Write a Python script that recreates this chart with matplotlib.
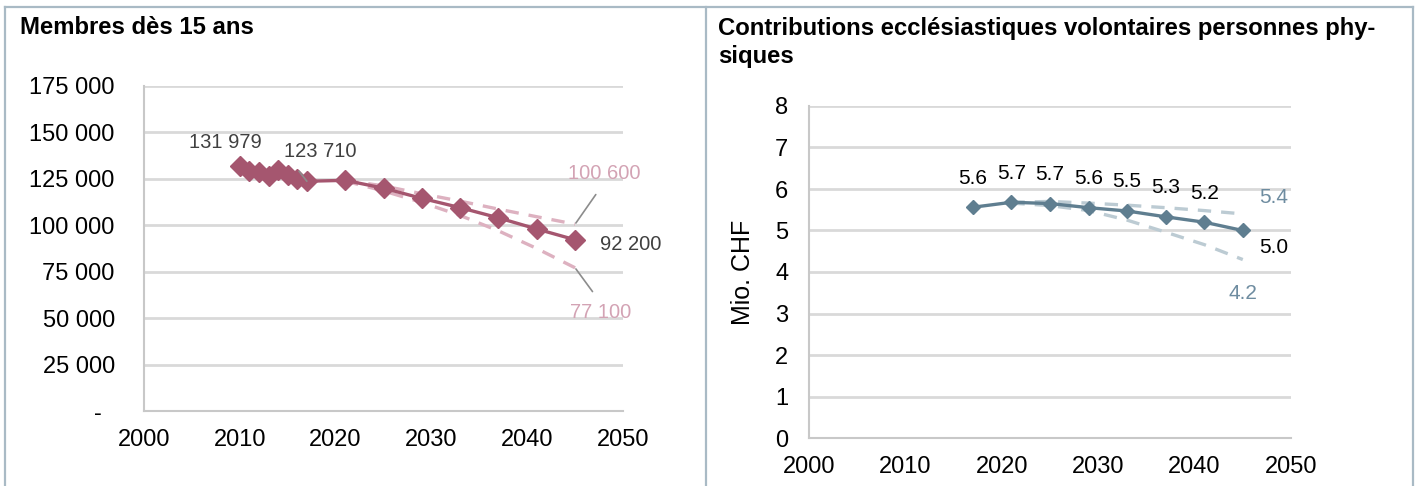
import matplotlib
matplotlib.use("Agg")
import matplotlib.pyplot as plt
from matplotlib.lines import Line2D
from matplotlib.ticker import FixedLocator

plt.rcParams['font.family'] = ['Liberation Sans', 'DejaVu Sans']

# ---------------- data ----------------
# Left: Membres dès 15 ans
mem_years = [2010, 2011, 2012, 2013, 2014, 2015, 2016, 2017, 2021, 2025, 2029, 2033, 2037, 2041, 2045]
mem_values = [131979, 129300, 128500, 126500, 129500, 127300, 125000, 123710,
              124200, 120000, 114500, 109500, 104000, 98000, 92200]
mem_scen_years = [2021, 2025, 2029, 2033, 2037, 2041, 2045]
mem_high = [124200, 121200, 117000, 113000, 108700, 104600, 100600]
mem_low = [123800, 118500, 112300, 105300, 97000, 87500, 77100]
mem_yticks = [0, 25000, 50000, 75000, 100000, 125000, 150000, 175000]
mem_yticklabels = ['-', '25 000', '50 000', '75 000', '100 000', '125 000', '150 000', '175 000']

# Right: Contributions ecclésiastiques volontaires personnes physiques (Mio. CHF)
con_years = [2017, 2021, 2025, 2029, 2033, 2037, 2041, 2045]
con_values = [5.56, 5.68, 5.65, 5.55, 5.47, 5.33, 5.20, 5.00]
con_labels = ['5.6', '5.7', '5.7', '5.6', '5.5', '5.3', '5.2']
con_scen_years = [2021, 2025, 2029, 2033, 2037, 2041, 2045]
con_high = [5.68, 5.70, 5.66, 5.61, 5.55, 5.48, 5.40]
con_low = [5.66, 5.60, 5.48, 5.25, 4.96, 4.66, 4.30]

xticks = [2000, 2010, 2020, 2030, 2040, 2050]

# ---------------- style ----------------
MAROON = '#A5566F'
PINK_DASH = '#DDB1C0'
PINK_TXT = '#D3A3B4'
SLATE = '#5F7E90'
SLATE_DASH = '#BCCBD3'
SLATE_TXT = '#6E8CA0'
GRID = '#D9D9D9'
BORDER = '#A9BAC5'
GRAYTXT = '#404040'
TICKFS = 17

fig = plt.figure(figsize=(14.15, 4.86), dpi=100)
W, H = 1415, 486

def fx(px):
    return px / W

def fy(py):
    return 1 - py / H

# panel borders
for (x0, y0, x1, y1) in [(5, 7, 1413, 7), (5, 7, 5, 486), (706, 7, 706, 486), (1413, 7, 1413, 486)]:
    fig.add_artist(Line2D([fx(x0), fx(x1)], [fy(y0), fy(y1)], color=BORDER, lw=1.6))

fig.text(fx(20), fy(28), 'Membres dès 15 ans', fontsize=17.2, fontweight='bold',
         ha='left', va='center', color='black')
fig.text(fx(718), fy(42.5), 'Contributions ecclésiastiques volontaires personnes phy-\nsiques',
         fontsize=17.2, fontweight='bold', ha='left', va='center', color='black', linespacing=1.25)


def style_axes(ax, pad_y):
    for s in ['top', 'right']:
        ax.spines[s].set_visible(False)
    for s in ['left', 'bottom']:
        ax.spines[s].set_color('#C8C8C8')
        ax.spines[s].set_linewidth(1.5)
    ax.grid(axis='y', color=GRID, lw=2)
    ax.set_axisbelow(True)
    ax.tick_params(axis='both', length=0, labelsize=TICKFS, colors='black')
    ax.tick_params(axis='y', pad=pad_y)
    ax.tick_params(axis='x', pad=13)
    ax.set_xlim(2000, 2050)
    ax.xaxis.set_major_locator(FixedLocator(xticks))


# ---------------- left chart ----------------
ax1 = fig.add_axes([fx(144), fy(411), fx(623 - 144), (411 - 86) / H])
style_axes(ax1, 21)
ax1.set_ylim(0, 175000)
ax1.set_yticks(mem_yticks)
ax1.set_yticklabels(mem_yticklabels)
ax1.get_yticklabels()[0].set_x(-0.028)

ax1.plot(mem_scen_years, mem_high, color=PINK_DASH, lw=2.4, dashes=(4, 3), zorder=2)
ax1.plot(mem_scen_years, mem_low, color=PINK_DASH, lw=2.4, dashes=(4, 3), zorder=2)
ax1.plot(mem_years, mem_values, color=MAROON, lw=2.4, marker='D', ms=10, zorder=3)

def fmt_thousands(v):
    return f'{int(round(v)):,}'.replace(',', ' ')

ax1.annotate(fmt_thousands(mem_values[0]), (mem_years[0], mem_values[0]),
             xytext=(-14, 23), textcoords='offset pixels', ha='center', va='center',
             fontsize=14.5, color=GRAYTXT)
ax1.annotate(fmt_thousands(mem_values[7]), (mem_years[7], mem_values[7]),
             xytext=(13, 30), textcoords='offset pixels', ha='center', va='center',
             fontsize=14.5, color=GRAYTXT,
             arrowprops=dict(arrowstyle='-', color='#8C8C8C', lw=1.2, shrinkA=7, shrinkB=0,
                             relpos=(0.1, 0.0)))
ax1.annotate(fmt_thousands(mem_values[-1]), (mem_years[-1], mem_values[-1]),
             xytext=(56, -5), textcoords='offset pixels', ha='center', va='center',
             fontsize=14.5, color=GRAYTXT)
ax1.annotate(fmt_thousands(mem_high[-1]), (mem_scen_years[-1], mem_high[-1]),
             xytext=(29, 51), textcoords='offset pixels', ha='center', va='center',
             fontsize=14.5, color=PINK_TXT,
             arrowprops=dict(arrowstyle='-', color='#8C8C8C', lw=1.2, shrinkA=8, shrinkB=1,
                             relpos=(0.5, 0.0)))
ax1.annotate(fmt_thousands(mem_low[-1]), (mem_scen_years[-1], mem_low[-1]),
             xytext=(26, -45), textcoords='offset pixels', ha='center', va='center',
             fontsize=14.5, color=PINK_TXT,
             arrowprops=dict(arrowstyle='-', color='#8C8C8C', lw=1.2, shrinkA=8, shrinkB=1,
                             relpos=(0.5, 1.0)))

# ---------------- right chart ----------------
ax2 = fig.add_axes([fx(809), fy(438), fx(1291 - 809), (438 - 106) / H])
style_axes(ax2, 15)
ax2.set_ylim(0, 8)
ax2.set_yticks(range(0, 9))
ax2.set_ylabel('Mio. CHF', fontsize=18, color='black')
ax2.yaxis.set_label_coords(-0.113, 0.5)

ax2.plot(con_scen_years, con_high, color=SLATE_DASH, lw=2.4, dashes=(4, 3), zorder=2)
ax2.plot(con_scen_years, con_low, color=SLATE_DASH, lw=2.4, dashes=(4, 3), zorder=2)
ax2.plot(con_years, con_values, color=SLATE, lw=2.4, marker='D', ms=7.5, zorder=3)

for yr, v, lab in zip(con_years, con_values, con_labels):
    ax2.annotate(lab, (yr, v), xytext=(0, 29), textcoords='offset pixels',
                 ha='center', va='center', fontsize=15, color='black')
ax2.annotate(f'{con_values[-1]:.1f}', (con_years[-1], con_values[-1]), xytext=(31, -17),
             textcoords='offset pixels', ha='center', va='center', fontsize=15, color='black')
ax2.annotate('5.4', (con_scen_years[-1], con_high[-1]), xytext=(31, 16),
             textcoords='offset pixels', ha='center', va='center', fontsize=15, color=SLATE_TXT)
ax2.annotate('4.2', (con_scen_years[-1], con_low[-1]), xytext=(0, -34),
             textcoords='offset pixels', ha='center', va='center', fontsize=15, color=SLATE_TXT)

fig.savefig('out.png', dpi=100, facecolor='white')
